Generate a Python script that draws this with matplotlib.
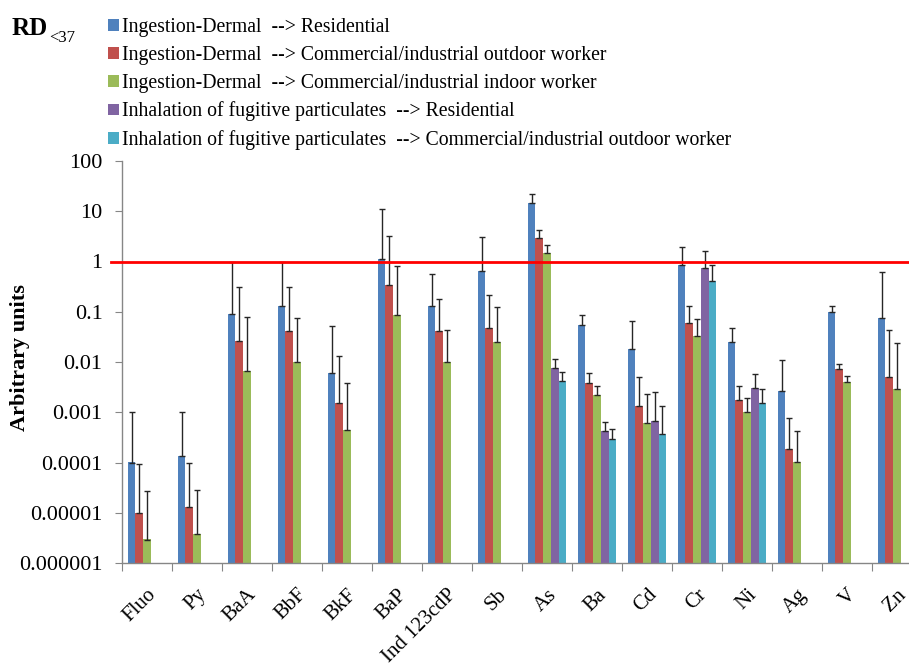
import numpy as np
import matplotlib
matplotlib.use('Agg')
import matplotlib.pyplot as plt
from matplotlib.patches import Patch
from matplotlib.ticker import FixedLocator, FuncFormatter, NullFormatter

nan = np.nan

categories = ['Fluo', 'Py', 'BaA', 'BbF', 'BkF', 'BaP', 'Ind 123cdP', 'Sb',
              'As', 'Ba', 'Cd', 'Cr', 'Ni', 'Ag', 'V', 'Zn']

# mean values and upper limit of the error bar for each exposure route
ing_resid = [1.0e-4, 1.37e-4, 0.09, 0.133, 0.006, 1.13, 0.131, 0.662,
             14.9, 0.055, 0.0178, 0.859, 0.0253, 0.00264, 0.101, 0.0747]
ing_resid_upper = [1.0e-3, 1.02e-3, 1.0, 1.0, 0.051, 11.0, 0.577, 3.14,
                   21.8, 0.0857, 0.066, 1.9, 0.048, 0.011, 0.133, 0.623]

ing_outdoor = [1.0e-5, 1.29e-5, 0.0265, 0.041, 0.00153, 0.344, 0.0406, 0.0466,
               2.91, 0.00387, 0.00135, 0.0585, 0.00178, 0.000183, 0.00713, 0.005]
ing_outdoor_upper = [9.5e-5, 9.8e-5, 0.318, 0.304, 0.0129, 3.29, 0.178, 0.214,
                     4.33, 0.00593, 0.00494, 0.133, 0.00337, 0.00077, 0.00924, 0.0425]

ing_indoor = [2.9e-6, 3.7e-6, 0.0066, 0.0101, 0.00045, 0.087, 0.0101, 0.0253,
              1.46, 0.00217, 0.00061, 0.0328, 0.001, 0.000104, 0.00399, 0.0029]
ing_indoor_upper = [2.75e-5, 2.9e-5, 0.078, 0.075, 0.0038, 0.82, 0.0438, 0.122,
                    2.11, 0.00332, 0.0023, 0.0714, 0.00192, 0.00043, 0.00517, 0.0241]

inh_resid = [nan, nan, nan, nan, nan, nan, nan, nan,
             0.0077, 0.000417, 0.00067, 0.736, 0.00299, nan, nan, nan]
inh_resid_upper = [nan, nan, nan, nan, nan, nan, nan, nan,
                   0.0114, 0.00064, 0.00249, 1.6, 0.00567, nan, nan, nan]

inh_outdoor = [nan, nan, nan, nan, nan, nan, nan, nan,
               0.00425, 0.000294, 0.00037, 0.4, 0.00155, nan, nan, nan]
inh_outdoor_upper = [nan, nan, nan, nan, nan, nan, nan, nan,
                     0.0062, 0.00047, 0.00135, 0.86, 0.00295, nan, nan, nan]

series_labels = [
    'Ingestion-Dermal  --> Residential',
    'Ingestion-Dermal  --> Commercial/industrial outdoor worker',
    'Ingestion-Dermal  --> Commercial/industrial indoor worker',
    'Inhalation of fugitive particulates  --> Residential',
    'Inhalation of fugitive particulates  --> Commercial/industrial outdoor worker',
]
colors = ['#4F81BD', '#C0504D', '#9BBB59', '#8064A2', '#4BACC6']

series = [(ing_resid, ing_resid_upper), (ing_outdoor, ing_outdoor_upper),
          (ing_indoor, ing_indoor_upper), (inh_resid, inh_resid_upper),
          (inh_outdoor, inh_outdoor_upper)]

plt.rcParams['font.family'] = 'Liberation Serif'

W, H = 909, 665
fig = plt.figure(figsize=(W / 100, H / 100), dpi=100)
# plot area runs slightly past the right edge of the figure
ax = fig.add_axes([122 / W, (H - 563) / H, 800 / W, 402 / H])

x = np.arange(len(categories))
n = len(series)
bw = 1 / (n + 1.5)
for k, ((vals, upper), col) in enumerate(zip(series, colors)):
    vals = np.array(vals, dtype=float)
    upper = np.array(upper, dtype=float)
    pos = x - 0.5 + (0.75 + k + 0.5) * bw
    ok = ~np.isnan(vals)
    ax.bar(pos[ok], vals[ok], width=bw, bottom=1e-7, color=col,
           edgecolor='none', zorder=2)
    err = upper[ok] - vals[ok]
    ax.errorbar(pos[ok], vals[ok], yerr=[np.zeros_like(err), err], fmt='none',
                ecolor='#262626', elinewidth=1.0, capsize=2.5, capthick=1.0,
                zorder=3)

ax.set_yscale('log')
ax.set_ylim(1e-6, 100)
ax.set_xlim(-0.5, len(categories) - 0.5)

# reference line at 1
ax.plot([-0.72, len(categories)], [1, 1], color='#FF0000', linewidth=2,
        clip_on=False, zorder=4)

ax.yaxis.set_major_locator(FixedLocator([10.0 ** p for p in range(-6, 3)]))
ax.yaxis.set_minor_locator(FixedLocator([]))
ax.yaxis.set_major_formatter(FuncFormatter(
    lambda v, _: ('%.6f' % v).rstrip('0').rstrip('.')))
ax.tick_params(axis='y', which='major', direction='out', length=5,
               color='#868686', labelsize=16, pad=9)

ax.xaxis.set_major_locator(FixedLocator(np.arange(-0.5, len(categories), 1.0)))
ax.xaxis.set_major_formatter(NullFormatter())
ax.xaxis.set_minor_locator(FixedLocator(x))
ax.set_xticklabels(categories, minor=True, rotation=45, ha='right',
                   rotation_mode='anchor', fontsize=15)
ax.tick_params(axis='x', which='major', direction='out', length=6,
               color='#868686')
ax.tick_params(axis='x', which='minor', length=0, pad=16)

for side in ['top', 'right']:
    ax.spines[side].set_visible(False)
for side in ['left', 'bottom']:
    ax.spines[side].set_color('#868686')
    ax.spines[side].set_linewidth(1.0)

ax.set_ylabel('Arbitrary units', fontsize=16, fontweight='bold')
ax.yaxis.set_label_coords((30 - 122) / 800, 0.51)

handles = [Patch(facecolor=c, edgecolor='none') for c in colors]
fig.legend(handles, series_labels, loc='upper left',
           bbox_to_anchor=(100 / W, 1 - 10 / H), frameon=False, fontsize=14.2,
           handlelength=0.57, handleheight=0.55, handletextpad=0.15,
           labelspacing=0.45, borderaxespad=0)

fig.text(12 / W, 1 - 35 / H, 'RD', fontsize=18, fontweight='bold',
         va='baseline')
fig.text(49 / W, 1 - 42 / H, '<37', fontsize=12, va='baseline')

fig.savefig('out.png', dpi=100)
